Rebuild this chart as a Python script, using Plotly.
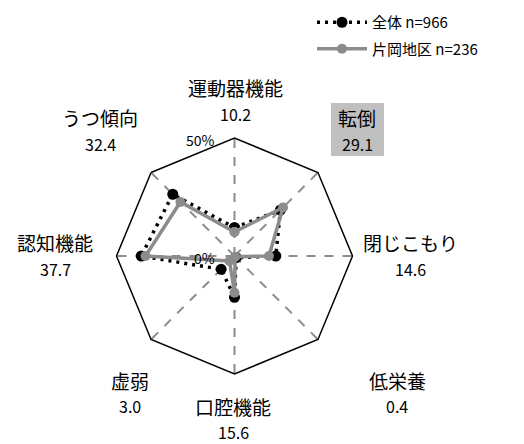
import plotly.graph_objects as go

# Categories (clockwise from the top) and rates in percent
categories = ["運動器機能", "転倒", "閉じこもり", "低栄養", "口腔機能", "虚弱", "認知機能", "うつ傾向"]
overall = [12.0, 27.5, 17.5, 1.0, 17.5, 8.0, 39.5, 37.0]      # 全体 n=966
kataoka = [10.2, 29.1, 14.6, 0.4, 15.6, 3.0, 37.7, 32.4]      # 片岡地区 n=236
series_names = ["全体 n=966", "片岡地区 n=236"]
r_min, r_max = 0, 50
radial_ticks = [0, 50]
highlight = "転倒"

W, H = 524, 444
FONT = "Noto Sans CJK JP, Noto Sans, sans-serif"


def closed(vals):
    return list(vals) + [vals[0]]


fig = go.Figure()
fig.add_trace(go.Scatterpolar(
    r=closed(overall), theta=closed(categories), name=series_names[0],
    legendgroup="a", mode="lines+markers",
    line=dict(color="black", width=3.5, dash="3px,5px"),
    marker=dict(color="black", size=11),
))
fig.add_trace(go.Scatterpolar(
    r=closed(kataoka), theta=closed(categories), name=series_names[1],
    legendgroup="b", mode="lines+markers",
    line=dict(color="#8c8c8c", width=3.5),
    marker=dict(color="#8c8c8c", size=10),
))

# Polar area: centre (234.5, 256) px, radius 118 px
cx, cy, rad = 234.5, 256, 118
fig.update_layout(
    width=W, height=H,
    margin=dict(l=0, r=0, t=0, b=0),
    paper_bgcolor="white", plot_bgcolor="white",
    font=dict(family=FONT, color="black"),
    polar=dict(
        domain=dict(x=[(cx - rad) / W, (cx + rad) / W],
                    y=[(H - cy - rad) / H, (H - cy + rad) / H]),
        gridshape="linear",
        bgcolor="white",
        angularaxis=dict(
            rotation=90, direction="clockwise",
            showline=True, linecolor="black", linewidth=1.5,
            showgrid=True, gridcolor="#8c8c8c", gridwidth=1.5, griddash="dash",
            showticklabels=False, ticks="",
        ),
        radialaxis=dict(
            range=[r_min, r_max], tickvals=radial_ticks,
            angle=90, showticklabels=False,
            showgrid=False, showline=False, ticks="",
        ),
    ),
    legend=dict(
        x=312 / W, y=1 - 6 / H, xanchor="left", yanchor="top",
        font=dict(size=15, color="black"),
        itemwidth=50, bgcolor="rgba(0,0,0,0)",
        traceorder="grouped", tracegroupgap=4,
    ),
)

# Radial scale labels, left of the vertical spoke
for v in radial_ticks:
    ypx = cy - rad * (v - r_min) / (r_max - r_min)
    fig.add_annotation(x=(cx - 18) / W, y=1 - (ypx + 2) / H,
                       xref="paper", yref="paper", text=f"{v}%",
                       showarrow=False, font=dict(size=14),
                       xanchor="right", yanchor="middle")

# Category labels with the 片岡地区 value beneath
label_pos = {
    "運動器機能": (235, 88),
    "転倒": (357, 118),
    "閉じこもり": (410, 243),
    "低栄養": (397, 380),
    "口腔機能": (233, 406),
    "虚弱": (130, 380),
    "認知機能": (55, 243),
    "うつ傾向": (100, 118),
}
for name, val in zip(categories, kataoka):
    x, y = label_pos[name]
    fig.add_annotation(x=x / W, y=1 - y / H, xref="paper", yref="paper",
                       text=name, showarrow=False, font=dict(size=19),
                       xanchor="center", yanchor="middle")
    fig.add_annotation(x=x / W, y=1 - (y + 26) / H, xref="paper", yref="paper",
                       text=f"{val:.1f}", showarrow=False, font=dict(size=16),
                       xanchor="center", yanchor="middle")
    if name == highlight:
        fig.add_shape(type="rect", xref="paper", yref="paper", layer="below",
                      x0=(x - 26) / W, x1=(x + 27) / W,
                      y0=1 - (y + 38) / H, y1=1 - (y - 15) / H,
                      fillcolor="#c0c0c0", line=dict(width=0))

fig.write_html("out.html")
